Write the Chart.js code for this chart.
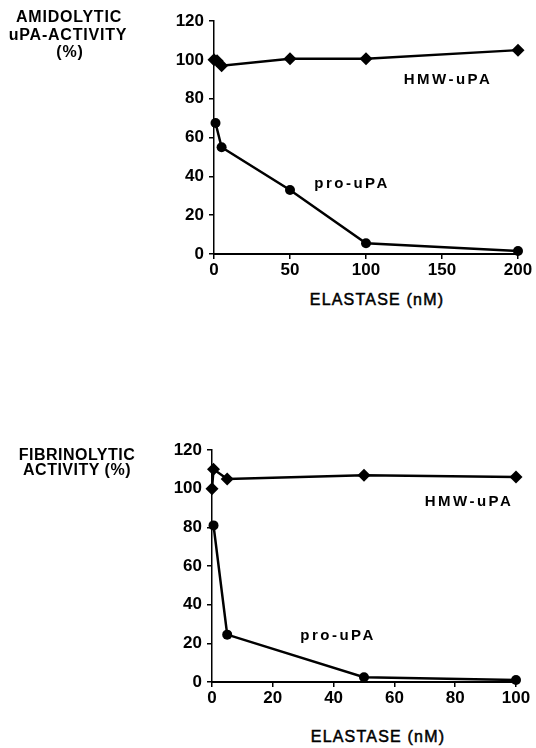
<!DOCTYPE html>
<html><head><meta charset="utf-8">
<script src="https://cdn.jsdelivr.net/npm/chart.js@4"></script>
<style>
html,body{margin:0;padding:0;background:#fff;width:536px;height:748px;overflow:hidden;position:relative}
.c{position:absolute;left:0;width:536px;height:290px}
.t{position:absolute;font-family:"Liberation Sans",Arial,sans-serif;font-weight:bold;color:#000;white-space:nowrap;transform:translate(-50%,-50%);text-align:center;line-height:1}
.yt{font-size:16px;letter-spacing:0.8px}
.lab{font-size:15px;letter-spacing:2.5px}
.ax{font-size:16px;font-weight:normal;letter-spacing:1.2px;-webkit-text-stroke:0.5px #000}
</style></head><body>
<div class="c" style="top:0"><canvas id="c1" width="536" height="290"></canvas></div>
<div class="c" style="top:429px"><canvas id="c2" width="536" height="290"></canvas></div>

<div class="t yt" style="left:69px;top:17px">AMIDOLYTIC</div>
<div class="t yt" style="left:68px;top:35px">uPA-ACTIVITY</div>
<div class="t yt" style="left:70px;top:52px">(%)</div>
<div class="t lab" style="left:448px;top:78px">HMW-uPA</div>
<div class="t lab" style="left:352px;top:182px">pro-uPA</div>
<div class="t ax" style="left:377px;top:300px">ELASTASE (nM)</div>

<div class="t yt" style="left:77px;top:455px;letter-spacing:0.5px">FIBRINOLYTIC</div>
<div class="t yt" style="left:77px;top:470px;letter-spacing:0.5px">ACTIVITY (%)</div>
<div class="t lab" style="left:469px;top:500px">HMW-uPA</div>
<div class="t lab" style="left:338px;top:634px">pro-uPA</div>
<div class="t ax" style="left:378px;top:737px">ELASTASE (nM)</div>

<script>
// Panel A: amidolytic uPA activity (%)
const elastaseA_HMW = [0, 2, 5, 50, 100, 200];
const amidolytic_HMW = [100, 99.5, 97, 100.5, 100.5, 105];
const elastaseA_pro = [1, 5, 50, 100, 200];
const amidolytic_pro = [67.5, 55, 33, 5.5, 1.5];
const xTicksA = [0, 50, 100, 150, 200];

// Panel B: fibrinolytic activity (%)
const elastaseB_HMW = [0, 0.5, 5, 50, 100];
const fibrinolytic_HMW = [100, 110, 105, 107, 106];
const elastaseB_pro = [0.5, 5, 50, 100];
const fibrinolytic_pro = [81, 24.5, 2.5, 1];
const xTicksB = [0, 20, 40, 60, 80, 100];

const yTicks = [0, 20, 40, 60, 80, 100, 120];

const FONT = {family: '"Liberation Sans", Arial, sans-serif', size: 17, weight: 'bold'};

function pts(xs, ys) { return xs.map((x, i) => ({x: x, y: ys[i]})); }

function build(id, hx, hy, px, py, xt, area, H) {
  const xMax = xt[xt.length - 1];
  const xStep = xt[1] - xt[0];
  new Chart(document.getElementById(id), {
    type: 'scatter',
    data: {
      datasets: [
        {label: 'HMW-uPA', data: pts(hx, hy), showLine: true, borderColor: '#000', backgroundColor: '#000',
         borderWidth: 2.5, pointStyle: 'rectRot', pointRadius: 6.5, pointBorderWidth: 0, clip: false},
        {label: 'pro-uPA', data: pts(px, py), showLine: true, borderColor: '#000', backgroundColor: '#000',
         borderWidth: 2.5, pointStyle: 'circle', pointRadius: 5, pointBorderWidth: 0, clip: false}
      ]
    },
    options: {
      responsive: false, animation: false,
      layout: {padding: {top: area.top, right: 536 - area.right, left: 0, bottom: 0}},
      plugins: {legend: {display: false}, tooltip: {enabled: false}},
      scales: {
        x: {type: 'linear', min: 0, max: xMax,
            afterBuildTicks: s => { s.ticks = xt.map(v => ({value: v})); },
            ticks: {color: '#000', font: FONT, padding: 1, maxRotation: 0, stepSize: xStep},
            grid: {drawOnChartArea: false, drawTicks: true, tickLength: 5, color: '#000', lineWidth: 1.5},
            border: {color: '#000', width: 2},
            afterFit: s => { s.height = H - area.bottom; }},
        y: {type: 'linear', min: 0, max: 120,
            afterBuildTicks: s => { s.ticks = yTicks.map(v => ({value: v})); },
            ticks: {color: '#000', font: FONT, padding: 5},
            grid: {drawOnChartArea: false, drawTicks: true, tickLength: 5, color: '#000', lineWidth: 1.5},
            border: {color: '#000', width: 1.5},
            afterFit: s => { s.width = area.left; }}
      }
    }
  });
}

build('c1', elastaseA_HMW, amidolytic_HMW, elastaseA_pro, amidolytic_pro, xTicksA,
      {left: 214, right: 518, top: 21, bottom: 254}, 290);
build('c2', elastaseB_HMW, fibrinolytic_HMW, elastaseB_pro, fibrinolytic_pro, xTicksB,
      {left: 212, right: 516, top: 21, bottom: 253}, 290);
</script>
</body></html>
